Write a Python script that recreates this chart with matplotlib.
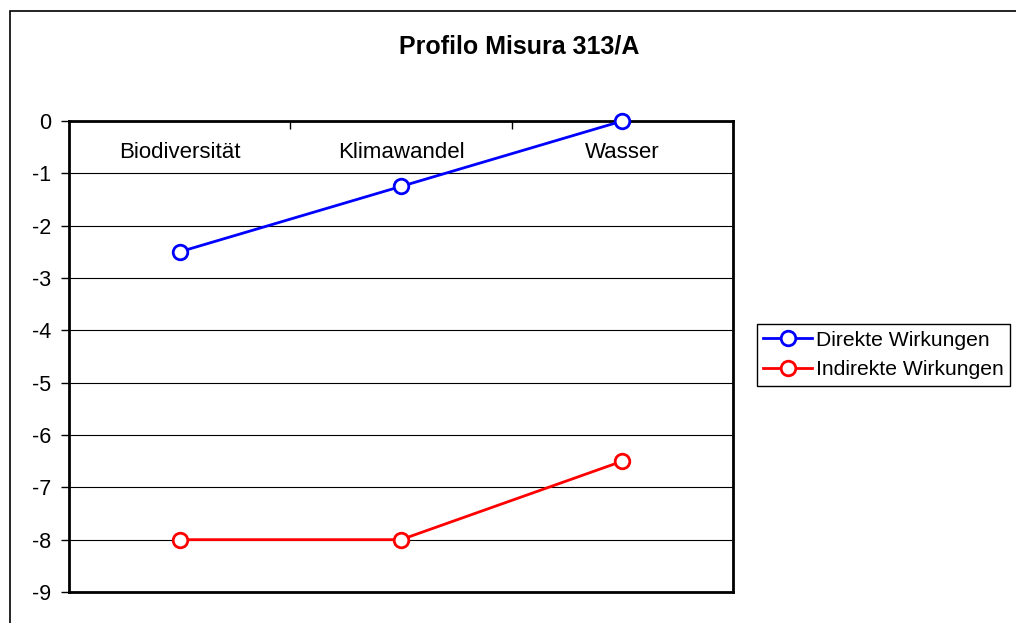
import matplotlib.pyplot as plt
from matplotlib.patches import Rectangle

plt.rcParams['font.family'] = ['Liberation Sans', 'DejaVu Sans']

kategorien = ['Biodiversität', 'Klimawandel', 'Wasser']
direkte = [-2.5, -1.25, 0]
indirekte = [-8, -8, -6.5]
y_ticks = [0, -1, -2, -3, -4, -5, -6, -7, -8, -9]

fig = plt.figure(figsize=(10.16, 6.23), dpi=100)
ax = fig.add_axes([69/1016, 31/623, 664/1016, 471/623])

# Rahmen um das ganze Diagramm
fig.patches.append(Rectangle((10/1016, -0.1), 1.2, (612/623) + 0.1,
                             transform=fig.transFigure, fill=False,
                             edgecolor='black', linewidth=1.2))

x = range(len(kategorien))
ax.plot(x, direkte, '-o', color='blue', linewidth=2, markersize=10.5,
        markerfacecolor='white', markeredgewidth=2, label='Direkte Wirkungen',
        clip_on=False, zorder=5)
ax.plot(x, indirekte, '-o', color='red', linewidth=2, markersize=10.5,
        markerfacecolor='white', markeredgewidth=2, label='Indirekte Wirkungen',
        clip_on=False, zorder=5)

ax.set_xlim(-0.5, 2.5)
ax.set_ylim(-9, 0)
ax.set_yticks(y_ticks)
ax.set_yticklabels([str(v) for v in y_ticks], fontsize=15.5)
ax.tick_params(axis='y', direction='out', length=6, width=1, pad=7)

# Kategorien oben, Teilstriche zwischen den Kategorien
ax.xaxis.tick_top()
ax.set_xticks([0.5, 1.5])
ax.set_xticklabels([])
ax.tick_params(axis='x', direction='in', length=6, width=1)
for i, k in enumerate(kategorien):
    ax.text(i, -0.6, k, ha='center', va='center', fontsize=16)

ax.grid(axis='y', color='black', linewidth=0.8)
ax.set_axisbelow(True)
for s in ax.spines.values():
    s.set_linewidth(2)

fig.text(519/1016, 1 - 47/623, 'Profilo Misura 313/A', ha='center', va='center',
         fontsize=18, fontweight='bold')

leg = ax.legend(loc='center left', bbox_to_anchor=(757/1016, 1 - 355/623),
                bbox_transform=fig.transFigure, fontsize=15.2, frameon=True,
                fancybox=False, edgecolor='black', framealpha=1,
                borderpad=0.3, handlelength=2.3, handletextpad=0.2,
                labelspacing=0.5, borderaxespad=0)
leg.get_frame().set_linewidth(1)

fig.savefig('out.png', dpi=100)
